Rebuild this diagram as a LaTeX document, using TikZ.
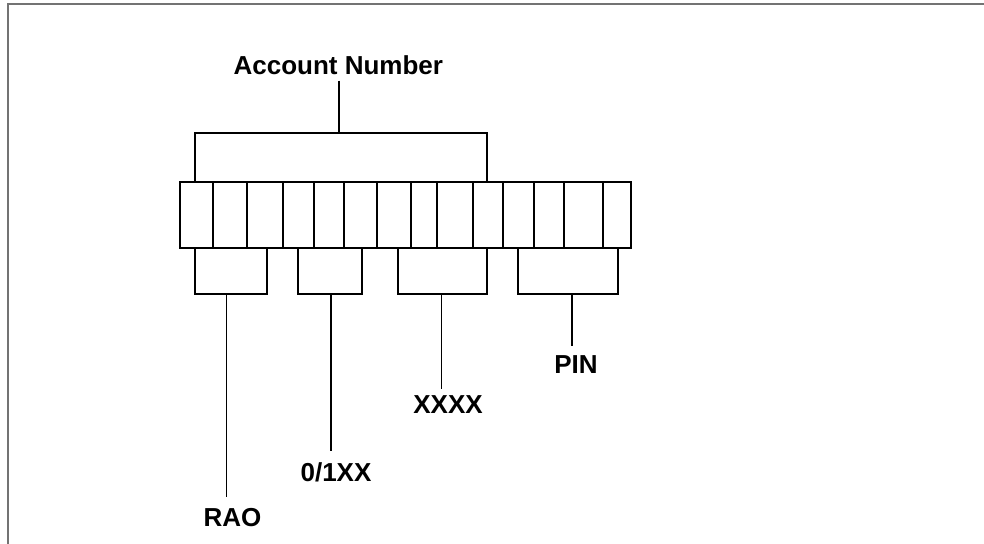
\documentclass[tikz,border=0pt]{standalone}
\usepackage{fontspec}
\setmainfont{Liberation Sans}
\begin{document}
\begin{tikzpicture}[x=1pt,y=-1pt,
  ln/.style={line width=1.7pt,black},
  frm/.style={line width=1.4pt,black!55},
  lbl/.style={font=\bfseries\fontsize{26}{28}\selectfont,anchor=base,inner sep=0pt}]
\useasboundingbox (0,0) rectangle (984,543);
% frame
\draw[frm] (8,545) -- (8,4) -- (986,4);
% cell row
\draw[ln] (180,181.7) rectangle (631,248.3);
\foreach \x in {213.3,247.3,282.7,314,344,377.3,410.7,436.7,472.7,502.7,534,564.3,603.3}
  \draw[ln] (\x,181.7) -- (\x,248.3);
% top bracket
\node[lbl] (acc) at (338.3,74.3) {Account Number};
\coordinate (accstem) at (339,80.7);
\draw[ln] (195.3,181.7) -- (195.3,132.7) -- (487.3,132.7) -- (487.3,181.7);
\draw[ln] (accstem) -- (339,132.7);
% lower brackets
\draw[ln] (195,248.3) -- (195,294.3) -- (267.3,294.3) -- (267.3,248.3);
\draw[ln] (298.3,248.3) -- (298.3,294.3) -- (361.7,294.3) -- (361.7,248.3);
\draw[ln] (398.3,248.3) -- (398.3,294.3) -- (487.3,294.3) -- (487.3,248.3);
\draw[ln] (518.3,248.3) -- (518.3,294.3) -- (617.7,294.3) -- (617.7,248.3);
% labels
\node[lbl] (rao) at (232.5,526.7) {RAO};
\node[lbl] (ozx) at (336,481.7) {0/1XX};
\node[lbl] (xxxx) at (448,413.3) {XXXX};
\node[lbl] (pin) at (576,373.3) {PIN};
\coordinate (e1) at (226.5,496.7);
\coordinate (e2) at (331,450.7);
\coordinate (e3) at (441.5,389.3);
\coordinate (e4) at (572.3,345.7);
\draw[ln] (226.5,294.3) -- (e1);
\draw[ln] (331,294.3) -- (e2);
\draw[ln] (441.5,294.3) -- (e3);
\draw[ln] (572.3,294.3) -- (e4);
\end{tikzpicture}
\end{document}
